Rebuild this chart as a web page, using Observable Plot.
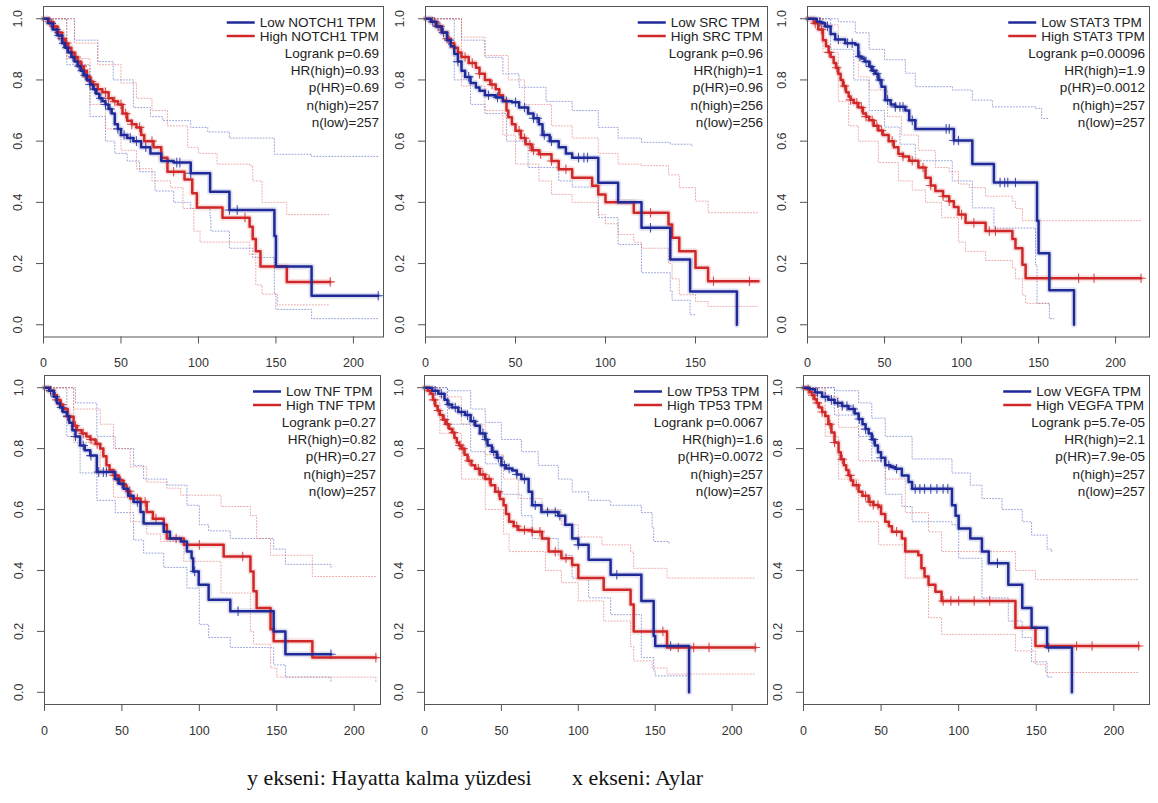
<!DOCTYPE html>
<html><head><meta charset="utf-8">
<script src="https://cdn.jsdelivr.net/npm/d3@7"></script>
<script src="https://cdn.jsdelivr.net/npm/@observablehq/plot@0.6"></script>
<style>
body{margin:0;background:#fff;}
#wrap{position:relative;width:1158px;height:803px;overflow:hidden;background:#fff;}
#wrap svg{position:absolute;}
.cap{position:absolute;font-family:"Liberation Serif","Times New Roman",serif;font-size:22px;line-height:22px;color:#111;white-space:nowrap;}
</style></head><body><div id="wrap"></div>
<script>
// ---------- DATA ----------
const genes = ["NOTCH1","SRC","STAT3","TNF","TP53","VEGFA"];
const logrankP = ["0.69","0.96","0.00096","0.27","0.0067","5.7e-05"];
const hrHigh = ["0.93","1","1.9","0.82","1.6","2.1"];
const pHR = ["0.69","0.96","0.0012","0.27","0.0072","7.9e-05"];
const nHigh = [257,256,257,257,257,257];
const nLow = [257,256,257,257,257,257];
const xMax = [219.4,190,222,217,223,223];
const xTicksAll = [0,50,100,150,200];
const yTicks = [0,0.2,0.4,0.6,0.8,1.0];

// NOTCH1
const notch1Low = [[0,1],[3,0.985],[6,0.965],[9,0.945],[12,0.92],[14,0.905],[16,0.89],[18,0.875],[20,0.86],[22,0.845],[24,0.83],[26,0.815],[28,0.8],[30,0.785],[32,0.77],[34,0.755],[36,0.74],[38,0.73],[40,0.72],[42,0.705],[44,0.69],[46,0.655],[48,0.64],[50,0.62],[54,0.61],[58,0.6],[63,0.58],[69,0.56],[76,0.535],[84,0.53],[95,0.495],[107.5,0.435],[120,0.375],[149,0.29],[150,0.19],[173,0.095],[216,0.095]];
const notch1High = [[0,1],[3,0.99],[6,0.975],[9,0.955],[12,0.935],[14,0.92],[16,0.905],[18,0.89],[20,0.875],[22,0.86],[24,0.845],[26,0.83],[28,0.81],[30,0.795],[32,0.785],[35,0.77],[38,0.76],[42,0.74],[45,0.73],[48,0.72],[51,0.69],[54,0.667],[57,0.655],[60,0.645],[63,0.62],[65,0.6],[71,0.58],[76,0.546],[80,0.5],[91,0.475],[96,0.43],[99,0.383],[115.5,0.35],[133,0.32],[135,0.28],[137,0.24],[140,0.19],[157,0.14],[185,0.14]];
const notch1LowUp = [[0,1],[20,0.93],[35,0.86],[45,0.8],[58,0.71],[69,0.68],[77,0.667],[95,0.645],[106,0.63],[120,0.61],[149,0.557],[173,0.55],[216,0.55]];
const notch1LowLo = [[0,1],[15,0.85],[30,0.68],[40,0.6],[46,0.56],[54,0.535],[62,0.5],[72,0.437],[84,0.4],[95,0.38],[107.5,0.35],[108,0.306],[120,0.25],[135,0.22],[149,0.1],[150,0.05],[173,0.02],[216,0.02]];
const notch1HighUp = [[0,1],[20,0.92],[35,0.85],[50,0.79],[60,0.74],[70,0.7],[80,0.65],[93,0.58],[100,0.56],[112,0.525],[133,0.52],[135,0.47],[141,0.4],[157,0.36],[185,0.36]];
const notch1HighLo = [[0,1],[15,0.87],[30,0.72],[40,0.64],[50,0.57],[60,0.51],[70,0.47],[82,0.448],[90,0.38],[97,0.306],[101,0.27],[133,0.23],[137,0.13],[141,0.1],[151,0.065],[185,0.065]];
const notch1LowCens = [5,8,10,13,15,19,23,25,27,30,33,37,40,43,48,52,56,60,66,86,88,95,120,125,216];
const notch1HighCens = [4,7,10,12,15,18,21,25,28,31,35,40,42,46,50,53,57,62,70,84,130,185];

// SRC
const srcLow = [[0,1],[3,0.99],[6,0.975],[9,0.955],[12,0.93],[14,0.91],[16,0.885],[18,0.86],[20,0.83],[22,0.81],[25,0.79],[28,0.775],[30,0.765],[33,0.75],[39,0.743],[43,0.73],[48,0.727],[52,0.71],[57,0.69],[60,0.675],[63,0.655],[65,0.62],[69,0.6],[74,0.58],[78,0.56],[81.5,0.546],[96,0.464],[107,0.4],[120,0.317],[136,0.213],[147,0.109],[173,0]];
const srcHigh = [[0,1],[3,0.99],[6,0.975],[9,0.955],[12,0.935],[14,0.92],[16,0.905],[18,0.89],[20,0.875],[24,0.855],[28,0.84],[30,0.82],[33,0.8],[36,0.785],[39,0.77],[41,0.75],[43,0.733],[45,0.7],[46,0.678],[48,0.655],[50,0.634],[53,0.61],[55.6,0.59],[59,0.57],[63,0.557],[70,0.535],[74,0.508],[81.5,0.48],[92.6,0.454],[96,0.426],[100,0.4],[115.7,0.366],[135,0.328],[137,0.284],[141,0.24],[150,0.186],[157,0.142],[185,0.142]];
const srcLowUp = [[0,1],[20,0.93],[33,0.874],[43,0.82],[52,0.776],[67,0.73],[81.5,0.7],[96,0.645],[107,0.61],[120,0.596],[136,0.59],[148,0.585]];
const srcLowLo = [[0,1],[16,0.8],[25,0.72],[33,0.69],[45,0.6],[57,0.514],[74,0.47],[81.5,0.45],[96,0.35],[107,0.262],[120,0.17],[136,0.11],[137,0.08],[147,0.033],[150,0.033]];
const srcHighUp = [[0,1],[20,0.94],[33,0.88],[46,0.8],[55,0.72],[70,0.65],[81.5,0.61],[96,0.56],[107,0.525],[120,0.52],[135,0.49],[141,0.448],[150,0.404],[157,0.366],[185,0.366]];
const srcHighLo = [[0,1],[20,0.78],[33,0.7],[43,0.62],[50,0.525],[63,0.47],[70,0.426],[81.5,0.4],[96,0.36],[100,0.33],[107,0.295],[115.7,0.27],[120,0.25],[135,0.2],[137,0.15],[141,0.098],[150,0.076],[157,0.06],[185,0.06]];
const srcLowCens = [4,7,10,13,18,24,35,40,45,50,55,60,62,66,70,85,88,90,125];
const srcHighCens = [5,8,12,16,22,26,30,37,52,55,58,60,64,70,78,125,160,180];

// STAT3
const stat3Low = [[0,1],[6,0.99],[9,0.985],[11.5,0.975],[15,0.95],[18,0.932],[24.5,0.92],[31,0.915],[33,0.877],[35,0.87],[37,0.86],[40,0.844],[42,0.83],[44,0.82],[46,0.8],[48,0.778],[50.5,0.734],[54,0.72],[57,0.712],[63.5,0.7],[66,0.668],[70,0.64],[95,0.602],[107,0.525],[121,0.465],[149,0.34],[150,0.234],[157,0.113],[173,0]];
const stat3High = [[0,1],[4,0.985],[7,0.965],[10,0.93],[12,0.91],[13.7,0.89],[15,0.875],[17,0.855],[18.5,0.84],[20,0.82],[21.5,0.8],[23,0.78],[25,0.76],[26.7,0.745],[28,0.735],[30,0.725],[33,0.71],[36,0.69],[38,0.68],[40,0.668],[43,0.65],[46,0.635],[49,0.62],[52.7,0.6],[56,0.58],[59,0.558],[62,0.55],[66,0.536],[72,0.514],[76.6,0.48],[80,0.455],[83,0.437],[88,0.42],[92,0.404],[95,0.385],[98,0.36],[102.6,0.333],[115.6,0.306],[133,0.28],[135,0.25],[139.5,0.196],[141.6,0.152],[216.5,0.152]];
const stat3LowUp = [[0,1],[20,0.99],[31,0.954],[40,0.9],[50,0.866],[63.5,0.822],[70,0.778],[94,0.767],[107,0.734],[120,0.712],[148,0.707],[152,0.674],[157,0.674]];
const stat3LowLo = [[0,1],[15,0.9],[30,0.8],[40,0.7],[50,0.646],[60,0.59],[70,0.536],[94,0.47],[107,0.382],[121,0.316],[148,0.196],[149,0.07],[157,0.02],[160,0.02]];
const stat3HighUp = [[0,1],[10,0.98],[20,0.92],[33,0.81],[40,0.767],[52,0.68],[61,0.62],[72,0.57],[83,0.514],[92,0.5],[98,0.46],[105,0.448],[115.6,0.42],[133,0.404],[135,0.38],[139.5,0.34],[216.5,0.34]];
const stat3HighLo = [[0,1],[10,0.89],[20,0.73],[26.7,0.65],[33,0.6],[46,0.53],[59,0.47],[68,0.44],[76.6,0.4],[87,0.35],[98,0.27],[102.6,0.24],[115.6,0.21],[133,0.185],[135,0.15],[139.5,0.097],[141.6,0.07],[157,0.06]];
const stat3LowCens = [8,13,20,26,29,34,38,41,43,45,47,52,57,60,62,68,90,92,95,98,125,128,130,135];
const stat3HighCens = [5,9,14,19,24,28,32,35,38,42,45,48,55,62,68,75,80,88,92,100,108,118,122,176,186,216.5];

// TNF
const tnfLow = [[0,1],[3,0.99],[6,0.97],[8,0.95],[10,0.935],[12,0.92],[14.4,0.907],[16,0.885],[18,0.86],[20,0.84],[23,0.81],[26,0.795],[29.5,0.777],[33.8,0.723],[42.5,0.723],[45.7,0.7],[48,0.685],[51,0.668],[54,0.645],[57.5,0.625],[62,0.592],[64,0.554],[77,0.527],[81,0.505],[88,0.495],[92,0.462],[95,0.44],[96,0.397],[99.6,0.353],[106,0.304],[120,0.266],[148,0.2],[155.6,0.125],[185,0.125]];
const tnfHigh = [[0,1],[3,0.99],[6,0.975],[8,0.96],[10,0.945],[12,0.93],[15,0.905],[18.8,0.875],[21,0.86],[24,0.85],[27,0.84],[29.5,0.83],[33,0.815],[36,0.8],[38,0.775],[40,0.745],[42,0.73],[44.6,0.712],[48,0.695],[51,0.68],[53,0.66],[55.4,0.636],[62,0.625],[66,0.592],[70,0.57],[77,0.55],[79,0.505],[90,0.484],[115.7,0.446],[133,0.397],[135,0.332],[137,0.277],[146,0.207],[148,0.168],[173,0.114],[214,0.114]];
const tnfLowUp = [[0,1],[20,0.95],[33.8,0.84],[45.7,0.8],[57.5,0.745],[64,0.7],[79,0.68],[92,0.614],[100,0.55],[106,0.53],[120,0.505],[148,0.47],[155.6,0.42],[185,0.41]];
const tnfLowLo = [[0,1],[14.4,0.84],[23,0.72],[33.8,0.63],[45.7,0.59],[57.5,0.5],[64,0.457],[77,0.41],[92,0.342],[100,0.223],[106,0.18],[120,0.147],[148,0.09],[155.6,0.05],[185,0.035]];
const tnfHighUp = [[0,1],[18.8,0.93],[36,0.88],[44.6,0.8],[55.4,0.74],[66,0.69],[79,0.67],[88,0.647],[114,0.61],[133,0.58],[137,0.505],[146,0.45],[173,0.38],[214,0.38]];
const tnfHighLo = [[0,1],[18.8,0.82],[36,0.73],[44.6,0.64],[55.4,0.56],[66,0.52],[75,0.495],[90,0.43],[114,0.326],[133,0.2],[135,0.158],[146,0.08],[150,0.05],[214,0.033]];
const tnfLowCens = [4,7,11,15,20,25,30,35,38,40,47,50,60,97,125,185];
const tnfHighCens = [4,8,11,15,20,25,30,34,45,49,55,60,65,72,85,100,128,214];

// TP53
const tp53Low = [[0,1],[5,0.99],[9,0.98],[13,0.96],[15,0.945],[17.8,0.935],[22,0.92],[26.5,0.91],[30,0.89],[33,0.875],[36,0.85],[39.5,0.83],[41,0.81],[43.8,0.79],[47,0.77],[50,0.745],[53,0.735],[57,0.728],[60,0.715],[63,0.7],[67.7,0.658],[70,0.614],[76,0.592],[87,0.58],[91.5,0.55],[96,0.505],[100,0.484],[106.7,0.435],[121,0.386],[141,0.3],[149,0.185],[150,0.152],[172,0]];
const tp53High = [[0,1],[2,0.99],[4,0.98],[5.5,0.96],[7,0.94],[8.5,0.925],[10,0.91],[12,0.895],[14,0.88],[16,0.865],[17.8,0.853],[19.5,0.835],[21,0.82],[22.5,0.81],[24,0.8],[26,0.78],[28,0.76],[30.5,0.745],[33,0.734],[36,0.715],[39.5,0.7],[43,0.68],[46,0.658],[49,0.635],[51.4,0.614],[53,0.585],[55,0.56],[58,0.545],[61,0.533],[70,0.527],[76.4,0.505],[80.7,0.462],[89,0.44],[96,0.418],[100,0.375],[116.5,0.337],[134,0.288],[136,0.2],[157.7,0.147],[215,0.147]];
const tp53LowUp = [[0,1],[15,0.99],[30,0.93],[39.5,0.886],[50,0.83],[63,0.79],[74,0.745],[87,0.7],[96,0.658],[106.7,0.63],[121,0.614],[141,0.59],[148,0.54],[149,0.495],[159,0.49]];
const tp53LowLo = [[0,1],[15,0.88],[30,0.79],[39.5,0.75],[50,0.65],[63,0.58],[70,0.505],[87,0.45],[96,0.375],[106.7,0.31],[121,0.255],[141,0.114],[149,0.07],[150,0.054],[172,0.05]];
const tp53HighUp = [[0,1],[10,0.97],[24,0.88],[39.5,0.78],[51.4,0.7],[61,0.636],[76.4,0.6],[89,0.55],[100,0.51],[115.4,0.484],[134,0.46],[136,0.407],[157.7,0.375],[215,0.375]];
const tp53HighLo = [[0,1],[10,0.85],[24,0.7],[39.5,0.6],[51.4,0.52],[55,0.462],[78.6,0.4],[89,0.36],[100,0.3],[116.5,0.234],[134,0.15],[136,0.103],[148,0.08],[157.7,0.06],[215,0.06]];
const tp53LowCens = [7,11,16,20,24,28,32,38,40,45,48,52,55,60,65,72,80,85,88,100,125,160];
const tp53HighCens = [3,6,9,13,15,19,23,25,29,35,38,42,48,60,65,70,75,85,92,155,165,175,185,215];

// VEGFA
const vegfaLow = [[0,1],[4,0.995],[7.5,0.984],[12,0.97],[16,0.96],[20,0.95],[25,0.94],[29,0.93],[33,0.915],[35.5,0.897],[38,0.88],[40,0.864],[42,0.85],[44,0.83],[46,0.81],[48,0.788],[50,0.77],[52.7,0.745],[56,0.74],[59,0.734],[63.4,0.712],[67.7,0.69],[70,0.668],[95.7,0.614],[98,0.58],[100,0.538],[107.5,0.505],[115,0.462],[119.4,0.424],[132,0.353],[141,0.277],[147,0.212],[157,0.147],[173,0]];
const vegfaHigh = [[0,1],[2,0.995],[4,0.985],[5.5,0.975],[7,0.962],[8.5,0.95],[10,0.935],[12,0.92],[14,0.907],[16,0.88],[18,0.853],[20,0.82],[22.6,0.788],[24,0.765],[26,0.745],[27.5,0.73],[29,0.712],[30.5,0.695],[32,0.68],[35.5,0.658],[38,0.645],[42,0.625],[45,0.615],[48.4,0.609],[50,0.585],[52.7,0.56],[55,0.545],[57,0.527],[63.4,0.505],[65.6,0.462],[74,0.45],[76,0.407],[78,0.38],[80.6,0.353],[85,0.33],[89,0.3],[136.6,0.212],[149.5,0.152],[216,0.152]];
const vegfaLowUp = [[0,1],[20,0.99],[35.5,0.95],[44,0.9],[52.7,0.84],[70,0.766],[95.7,0.72],[107.5,0.68],[115,0.636],[128,0.6],[141,0.56],[147,0.516],[157,0.47],[160,0.46]];
const vegfaLowLo = [[0,1],[20,0.91],[35.5,0.84],[44,0.76],[52.7,0.65],[63.4,0.61],[70,0.56],[95.7,0.55],[100,0.44],[115,0.31],[132,0.234],[141,0.18],[147,0.1],[157,0.05],[160,0.05]];
const vegfaHighUp = [[0,1],[14,0.97],[22.6,0.87],[35.5,0.76],[52.7,0.7],[65.6,0.59],[80.6,0.527],[89,0.462],[136.6,0.4],[149.5,0.37],[216,0.37]];
const vegfaHighLo = [[0,1],[14,0.84],[22.6,0.7],[35.5,0.56],[48.4,0.484],[65.6,0.375],[80.6,0.245],[89,0.19],[136.6,0.136],[149.5,0.092],[156,0.065],[216,0.065]];
const vegfaLowCens = [9,14,18,22,25,28,32,36,40,45,50,55,60,72,75,78,82,86,90,93,125,158];
const vegfaHighCens = [3,6,9,12,17,20,25,30,34,40,43,45,48,60,90,95,100,110,120,176,186,216];

// ---------- PANELS ----------
const lowCurves = [notch1Low, srcLow, stat3Low, tnfLow, tp53Low, vegfaLow];
const highCurves = [notch1High, srcHigh, stat3High, tnfHigh, tp53High, vegfaHigh];
const lowUps = [notch1LowUp, srcLowUp, stat3LowUp, tnfLowUp, tp53LowUp, vegfaLowUp];
const lowLos = [notch1LowLo, srcLowLo, stat3LowLo, tnfLowLo, tp53LowLo, vegfaLowLo];
const highUps = [notch1HighUp, srcHighUp, stat3HighUp, tnfHighUp, tp53HighUp, vegfaHighUp];
const highLos = [notch1HighLo, srcHighLo, stat3HighLo, tnfHighLo, tp53HighLo, vegfaHighLo];
const lowCens = [notch1LowCens, srcLowCens, stat3LowCens, tnfLowCens, tp53LowCens, vegfaLowCens];
const highCens = [notch1HighCens, srcHighCens, stat3HighCens, tnfHighCens, tp53HighCens, vegfaHighCens];

// frame boxes in page pixels: [left, right, top, bottom]
const frames = [[43,383,6,336.5],[425,767,6,336.5],[807,1149,6,336.5],[44,380,375,704],[424,767,375,704],[803,1149,375,704]];

const BLUE = "#1f2a98", RED = "#d02828";
const BLUE_CI = "#5566c0", RED_CI = "#e07070";
const FONT = "'Liberation Sans', Arial, sans-serif";

const ctx = document.createElement("canvas").getContext("2d");
ctx.font = "13.5px 'Liberation Sans'";
const measure = s => ctx.measureText(s).width;

function stepAt(curve, t) {
  let s = curve[0][1];
  for (const [tt, ss] of curve) { if (tt <= t) s = ss; else break; }
  return s;
}

function legendMark(i) {
  return (index, scales, values, dims) => {
    const g = d3.create("svg:g").attr("font-family", FONT).attr("font-size", 13.5).attr("fill", "#222");
    const right = dims.width - dims.marginRight - 4;
    const top = dims.marginTop;
    const lo = `Low ${genes[i]} TPM`, hi = `High ${genes[i]} TPM`;
    const x0 = right - measure(hi);
    [[lo, BLUE, 16.5], [hi, RED, 30]].forEach(([t, c, y]) => {
      g.append("line").attr("x1", x0 - 33).attr("x2", x0 - 5).attr("y1", top + y).attr("y2", top + y)
        .attr("stroke", c).attr("stroke-width", 2.5);
      g.append("text").attr("x", x0).attr("y", top + y).attr("dy", "0.35em").attr("text-anchor", "start").text(t);
    });
    const stats = [`Logrank p=${logrankP[i]}`, `HR(high)=${hrHigh[i]}`, `p(HR)=${pHR[i]}`, `n(high)=${nHigh[i]}`, `n(low)=${nLow[i]}`];
    stats.forEach((s, k) => g.append("text").attr("x", right).attr("y", top + 47 + 17.3 * k)
      .attr("dy", "0.35em").attr("text-anchor", "end").text(s));
    return g.node();
  };
}

const wrap = document.getElementById("wrap");
const ML = 45, MR = 4, MT = 6, MB = 40;

genes.forEach((g, i) => {
  const [fl, fr, ft, fb] = frames[i];
  const xt = xTicksAll.filter(t => t <= xMax[i]);
  const ci = (data, color) => Plot.line(data, {x: d => d[0], y: d => d[1], curve: "step-after", stroke: color,
    strokeWidth: 1, strokeDasharray: "1,2", strokeOpacity: 0.6});
  const halo = (data, color) => Plot.line(data, {x: d => d[0], y: d => d[1], curve: "step-after", stroke: color,
    strokeWidth: 6, strokeOpacity: 0.14});
  const main = (data, color) => Plot.line(data, {x: d => d[0], y: d => d[1], curve: "step-after", stroke: color,
    strokeWidth: 2.5});
  const cens = (times, curve, color) => Plot.dot(times.map(t => [t, stepAt(curve, t)]),
    {x: d => d[0], y: d => d[1], symbol: "plus", r: 3.2, stroke: color, strokeWidth: 1.1, strokeOpacity: 0.8});
  const chart = Plot.plot({
    width: fr - fl + ML + MR,
    height: fb - ft + MT + MB,
    marginLeft: ML, marginRight: MR, marginTop: MT, marginBottom: MB,
    style: {background: "transparent", overflow: "visible", maxWidth: "none", fontFamily: FONT, fontSize: "12.5px", color: "#333"},
    x: {domain: [0, xMax[i]], axis: null},
    y: {domain: [-0.04, 1.04], axis: null},
    marks: [
      ci(lowUps[i], BLUE_CI), ci(lowLos[i], BLUE_CI), ci(highUps[i], RED_CI), ci(highLos[i], RED_CI),
      halo(highCurves[i], RED), halo(lowCurves[i], BLUE),
      cens(highCens[i], highCurves[i], RED), cens(lowCens[i], lowCurves[i], BLUE),
      main(highCurves[i], RED), main(lowCurves[i], BLUE),
      Plot.frame({stroke: "#555", strokeWidth: 1}),
      Plot.axisX({ticks: xt, tickSize: 7, tickFormat: () => "", stroke: "#555"}),
      Plot.text(xt, {x: d => d, frameAnchor: "bottom", dy: 26, lineAnchor: "middle", text: d => String(d),
        fill: "#333", fontSize: 12.5}),
      Plot.axisY({ticks: yTicks, tickSize: 7, tickFormat: () => "", stroke: "#555"}),
      Plot.text(yTicks, {y: d => d, frameAnchor: "left", dx: -26, rotate: -90, text: d => d3.format(".1f")(d),
        fill: "#333", fontSize: 12.5, textAnchor: "middle"}),
      legendMark(i)
    ]
  });
  chart.style.left = (fl - ML) + "px";
  chart.style.top = (ft - MT) + "px";
  wrap.appendChild(chart);
});

const c1 = document.createElement("div");
c1.className = "cap"; c1.style.left = "247px"; c1.style.top = "767px";
c1.textContent = "y ekseni: Hayatta kalma yüzdesi";
const c2 = document.createElement("div");
c2.className = "cap"; c2.style.left = "572px"; c2.style.top = "767px";
c2.textContent = "x ekseni: Aylar";
wrap.appendChild(c1); wrap.appendChild(c2);
</script>
</body></html>
